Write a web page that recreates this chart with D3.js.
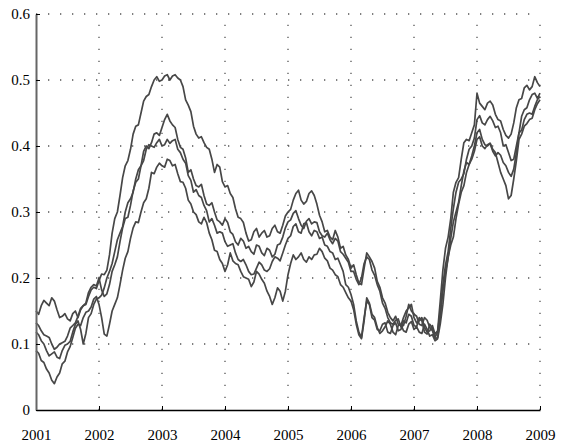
<!DOCTYPE html>
<html><head><meta charset="utf-8">
<script src="https://cdn.jsdelivr.net/npm/d3@7"></script>
<style>body{margin:0;background:#fff}svg{display:block}</style>
</head><body>
<script>
const startYear = 2001, stepsPerYear = 12;
const xTicks = [2001,2002,2003,2004,2005,2006,2007,2008,2009];
const yTicks = [0,0.1,0.2,0.3,0.4,0.5,0.6];
// month-start readings
const seriesA = [0.150,0.158,0.162,0.170,0.152,0.142,0.138,0.146,0.140,0.158,0.172,0.186,
0.196,0.205,0.235,0.290,0.325,0.370,0.395,0.430,0.450,0.475,0.490,0.505,
0.500,0.508,0.506,0.503,0.490,0.462,0.430,0.412,0.405,0.395,0.360,0.368,
0.338,0.328,0.305,0.290,0.268,0.258,0.275,0.268,0.262,0.275,0.270,0.280,
0.300,0.318,0.333,0.312,0.328,0.325,0.295,0.270,0.262,0.272,0.245,0.235,
0.215,0.205,0.190,0.238,0.225,0.195,0.170,0.148,0.135,0.130,0.140,0.155,
0.140,0.135,0.125,0.120,0.115,0.165,0.245,0.290,0.345,0.380,0.410,0.420,
0.480,0.460,0.465,0.462,0.440,0.425,0.412,0.435,0.470,0.488,0.485,0.505,0.490];
// mid-month readings
const seriesAMid = [0.145,0.166,0.158,0.165,0.140,0.146,0.135,0.150,0.152,0.160,0.182,0.184,
0.206,0.212,0.268,0.300,0.352,0.378,0.418,0.432,0.468,0.478,0.500,0.498,
0.506,0.500,0.508,0.500,0.470,0.452,0.418,0.414,0.398,0.380,0.372,0.346,
0.340,0.322,0.292,0.284,0.256,0.270,0.262,0.272,0.264,0.280,0.268,0.294,
0.304,0.328,0.318,0.316,0.332,0.312,0.285,0.272,0.258,0.262,0.248,0.228,
0.220,0.192,0.215,0.232,0.215,0.186,0.162,0.140,0.142,0.128,0.150,0.160,
0.132,0.140,0.118,0.128,0.120,0.212,0.262,0.330,0.352,0.405,0.408,0.432,
0.465,0.455,0.468,0.448,0.438,0.416,0.418,0.458,0.472,0.492,0.490,0.496];
const seriesB = [0.132,0.120,0.112,0.100,0.095,0.102,0.112,0.128,0.142,0.158,0.178,0.190,
0.200,0.172,0.190,0.220,0.255,0.290,0.310,0.345,0.370,0.400,0.405,0.420,
0.428,0.448,0.432,0.410,0.395,0.360,0.350,0.338,0.325,0.310,0.300,0.285,
0.290,0.270,0.255,0.260,0.245,0.240,0.250,0.238,0.245,0.232,0.250,0.262,
0.285,0.298,0.290,0.275,0.290,0.285,0.270,0.262,0.258,0.260,0.240,0.230,
0.210,0.198,0.200,0.232,0.212,0.190,0.162,0.140,0.130,0.138,0.128,0.160,
0.145,0.130,0.140,0.125,0.110,0.150,0.220,0.275,0.330,0.350,0.380,0.400,
0.440,0.435,0.440,0.438,0.430,0.400,0.390,0.380,0.420,0.455,0.470,0.480,0.480];
const seriesBMid = [0.128,0.114,0.110,0.092,0.100,0.104,0.124,0.132,0.154,0.162,0.186,0.188,
0.182,0.176,0.210,0.232,0.276,0.292,0.332,0.350,0.392,0.396,0.418,0.416,
0.440,0.438,0.428,0.398,0.382,0.364,0.340,0.342,0.312,0.314,0.288,0.280,
0.284,0.266,0.250,0.256,0.248,0.236,0.248,0.234,0.242,0.236,0.252,0.276,
0.288,0.302,0.280,0.286,0.282,0.284,0.264,0.268,0.252,0.256,0.236,0.224,
0.210,0.190,0.222,0.228,0.204,0.180,0.154,0.132,0.136,0.126,0.142,0.150,
0.142,0.128,0.136,0.120,0.118,0.190,0.240,0.305,0.345,0.358,0.395,0.412,
0.446,0.432,0.445,0.428,0.420,0.402,0.378,0.400,0.445,0.458,0.478,0.472];
const seriesC = [0.118,0.105,0.090,0.085,0.080,0.090,0.100,0.118,0.135,0.100,0.140,0.160,
0.170,0.185,0.210,0.240,0.268,0.300,0.320,0.350,0.370,0.395,0.400,0.405,
0.400,0.410,0.408,0.395,0.380,0.355,0.330,0.325,0.310,0.285,0.280,0.270,
0.255,0.250,0.238,0.225,0.220,0.205,0.215,0.220,0.210,0.225,0.230,0.238,
0.260,0.278,0.270,0.282,0.270,0.272,0.260,0.250,0.240,0.228,0.220,0.190,
0.175,0.135,0.110,0.165,0.140,0.122,0.130,0.118,0.128,0.120,0.135,0.145,
0.128,0.140,0.118,0.130,0.108,0.140,0.210,0.260,0.300,0.340,0.375,0.385,
0.420,0.410,0.400,0.392,0.390,0.375,0.360,0.365,0.420,0.440,0.450,0.460,0.475];
const seriesCMid = [0.114,0.100,0.082,0.088,0.078,0.098,0.104,0.130,0.122,0.116,0.146,0.168,
0.174,0.200,0.222,0.258,0.278,0.314,0.330,0.364,0.378,0.402,0.398,0.410,
0.402,0.404,0.410,0.390,0.374,0.348,0.334,0.322,0.302,0.290,0.268,0.268,
0.248,0.252,0.228,0.228,0.210,0.206,0.224,0.212,0.214,0.232,0.226,0.250,
0.264,0.282,0.268,0.284,0.264,0.270,0.262,0.248,0.238,0.230,0.210,0.186,
0.160,0.118,0.140,0.160,0.136,0.120,0.132,0.116,0.132,0.122,0.132,0.142,
0.126,0.135,0.115,0.124,0.110,0.180,0.230,0.285,0.315,0.362,0.372,0.400,
0.425,0.402,0.404,0.385,0.386,0.370,0.354,0.390,0.424,0.448,0.448,0.470];
const seriesD = [0.090,0.075,0.062,0.045,0.050,0.070,0.088,0.110,0.130,0.140,0.150,0.168,
0.160,0.115,0.130,0.160,0.190,0.230,0.260,0.285,0.300,0.320,0.360,0.368,
0.370,0.380,0.370,0.358,0.345,0.318,0.300,0.285,0.292,0.268,0.242,0.228,
0.210,0.238,0.222,0.210,0.200,0.187,0.210,0.198,0.180,0.160,0.185,0.165,
0.205,0.235,0.232,0.228,0.232,0.235,0.245,0.230,0.215,0.205,0.190,0.178,
0.165,0.130,0.108,0.170,0.145,0.125,0.120,0.135,0.118,0.128,0.120,0.130,
0.122,0.118,0.130,0.112,0.105,0.130,0.200,0.250,0.290,0.330,0.360,0.380,
0.410,0.400,0.402,0.395,0.375,0.350,0.320,0.350,0.410,0.430,0.440,0.455,0.470];
const seriesDMid = [0.086,0.072,0.056,0.040,0.056,0.074,0.096,0.124,0.128,0.148,0.156,0.172,
0.140,0.112,0.150,0.170,0.212,0.240,0.276,0.284,0.314,0.336,0.358,0.374,
0.368,0.378,0.372,0.346,0.336,0.312,0.296,0.282,0.284,0.258,0.240,0.222,
0.220,0.226,0.220,0.202,0.198,0.194,0.206,0.192,0.172,0.170,0.180,0.180,
0.222,0.228,0.238,0.224,0.228,0.236,0.240,0.226,0.212,0.202,0.186,0.170,
0.152,0.114,0.135,0.162,0.140,0.116,0.126,0.130,0.114,0.130,0.118,0.134,
0.126,0.116,0.122,0.114,0.108,0.160,0.232,0.262,0.312,0.340,0.372,0.392,
0.414,0.396,0.404,0.390,0.360,0.340,0.325,0.378,0.418,0.434,0.442,0.464];

function weave(main, mid) {
  const out = [];
  main.forEach((v, i) => {
    out.push({t: startYear + i / stepsPerYear, v: v});
    if (i < mid.length) out.push({t: startYear + (i + 0.5) / stepsPerYear, v: mid[i]});
  });
  return out;
}
const allSeries = [weave(seriesA, seriesAMid), weave(seriesB, seriesBMid),
                   weave(seriesC, seriesCMid), weave(seriesD, seriesDMid)];

const W = 562, H = 447;
const FONT = "'Liberation Serif', 'DejaVu Serif', serif";
const svg = d3.select("body").append("svg").attr("width", W).attr("height", H);
const x = d3.scaleLinear().domain([2001, 2009]).range([36, 540]);
const y = d3.scaleLinear().domain([0, 0.6]).range([410, 14]);

// grid
const grid = svg.append("g").attr("stroke", "#555").attr("stroke-width", 1.3)
  .attr("stroke-dasharray", "1.3,10.7");
grid.selectAll("line.v").data(xTicks.slice(1)).enter().append("line")
  .attr("x1", d => x(d)).attr("x2", d => x(d)).attr("y1", y(0)).attr("y2", y(0.6));
grid.selectAll("line.h").data(yTicks.slice(1)).enter().append("line")
  .attr("x1", x(2001)).attr("x2", x(2009)).attr("y1", d => y(d)).attr("y2", d => y(d));

// lines
const line = d3.line().x(d => x(d.t)).y(d => y(d.v));
svg.append("g").selectAll("path").data(allSeries).enter().append("path")
  .attr("d", line).attr("fill", "none").attr("stroke", "#474747")
  .attr("stroke-width", 1.7).attr("stroke-linejoin", "round");

// axes
const xAxis = d3.axisBottom(x).tickValues(xTicks).tickFormat(d3.format("d")).tickSizeInner(-4).tickSizeOuter(0).tickPadding(19);
const gx = svg.append("g").attr("transform", `translate(0,${y(0)})`).call(xAxis);
gx.select(".domain").attr("stroke", "#000").attr("stroke-width", 1.5);
gx.selectAll(".tick line").attr("stroke", "#000");
gx.selectAll("text").style("font-family", FONT).style("font-size", "15px").attr("fill", "#000");

const yAxis = d3.axisLeft(y).tickValues(yTicks).tickFormat(d => d === 0 ? "0" : d3.format(".1f")(d)).tickSizeInner(-4).tickSizeOuter(0).tickPadding(6);
const gy = svg.append("g").attr("transform", `translate(${x(2001)},0)`).call(yAxis);
gy.select(".domain").attr("stroke", "#666").attr("stroke-width", 2);
gy.selectAll(".tick line").attr("stroke", "#000");
gy.selectAll("text").style("font-family", FONT).style("font-size", "15px").attr("fill", "#000");
</script>
</body></html>
